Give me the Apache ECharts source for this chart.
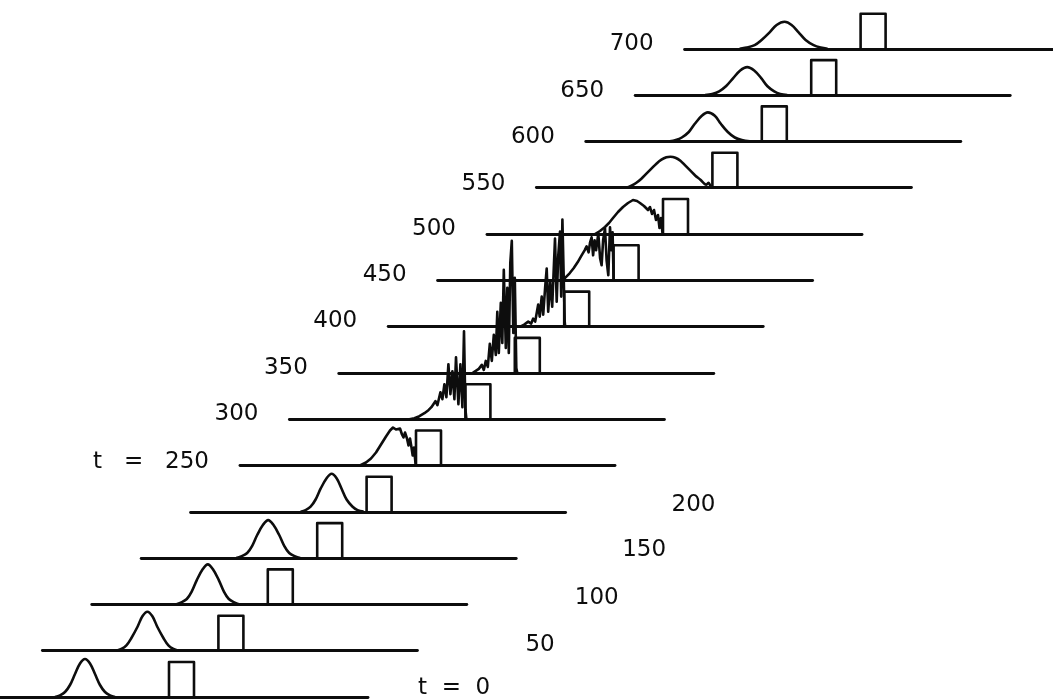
<!DOCTYPE html>
<html>
<head>
<meta charset="utf-8">
<script src="https://cdn.jsdelivr.net/npm/echarts@6/dist/echarts.min.js"></script>
<style>
html,body{margin:0;padding:0;background:#ffffff;}
#chart{width:1053px;height:700px;}
</style>
</head>
<body>
<div id="chart"></div>
<script>
// ---------------- DATA ----------------
// time of each slice
const times = [0, 50, 100, 150, 200, 250, 300, 350, 400, 450, 500, 550, 600, 650, 700];
// text of each slice label
const timeLabels = ["t  =  0", "50", "100", "150", "200", "t   =   250", "300", "350", "400", "450", "500", "550", "600", "650", "700"];
// position axis range and barrier (position units along each baseline)
const positionRange = [0, 375];
const barrierX = [176, 201];
const barrierHeight = 35;

// probability density |psi|^2 for each time: [position, density]
const rho_t0 = [[62,0],[67,1.7],[72,5],[77,12],[82,23],[87,33.5],[92,38],[97,33.5],[102,23],[107,12],[112,5],[117,1.7],[122,0]];
const rho_t50 = [[74,0],[79,1.7],[84,5.3],[89,12.7],[95,23.7],[100,34.4],[105,39],[110,34.4],[115,23.7],[121,12.7],[126,5.3],[131,1.7],[136,0]];
const rho_t100 = [[84,0],[89,1.8],[95,5.4],[100,13],[105,24.3],[111,35.3],[116,40],[121,35.3],[127,24.3],[132,13],[137,5.4],[143,1.8],[148,0]];
const rho_t150 = [[95,0],[100,1.7],[106,5.1],[111,12.3],[116,23.1],[122,33.5],[127,38],[132,33.5],[138,23.1],[143,12.3],[148,5.1],[154,1.7],[159,0]];
const rho_t200 = [[110,0],[115,1.7],[120,5.1],[125,12.3],[130,23.1],[136,33.5],[141,38],[146,33.5],[151,23.1],[156,12.3],[162,5.1],[167,1.7],[173,0.3]];
const rho_t250 = [[120,0],[126,3],[131,7],[136,13],[141,21],[146,29],[150,35],[153,38],[156,36],[158,35],[160,37],[162,31],[163.5,28],[165,33],[167,27],[168.5,20],[170,27],[171.5,18],[172.7,10],[174,18],[175.5,2],[176,0]];
const rho_t300 = [[120,0],[125,1],[130,3],[135,6],[139,9],[142,12],[144,10],[146,18],[148,14],[151,27],[153,20],[155,35],[157,22],[159,55],[161,25],[163,48],[165,20],[166.6,62],[169,15],[171,55],[173,12],[174.6,88],[176,10],[177,0]];
const rho_t350 = [[134,0],[137,2],[140,4],[143,8],[145,3],[147,12],[149,6],[151,29],[153,12],[155,38],[157,18],[158.5,61],[160,20],[162,70],[163.5,30],[165,103],[167,25],[168.5,85],[170,20],[171.5,110],[173,132],[174.5,40],[176,95],[177.5,5],[178.5,0]];
const rho_t400 = [[132,0],[136,2],[140,5],[143,3],[145,8],[147,5],[150,22],[151.5,10],[153.5,30],[155,12],[157,40],[158.5,58],[160,15],[162,45],[164,20],[166.8,88],[168.5,25],[170,70],[171.8,95],[173,30],[174.2,107],[175.5,50],[176.5,5],[177,0]];
const rho_t450 = [[125,0],[128,3],[132,7],[136,12],[140,18],[144,25],[147,30],[149,34],[151,28],[152.5,38],[154,43],[155.5,25],[157,40],[158.5,30],[160.7,47],[162.5,22],[164,15],[165.5,40],[167.4,52],[169,20],[170.7,5],[172.4,53],[174,30],[175,48],[176,0]];
const rho_t500 = [[108,0],[113,3],[118,7],[122,11],[126,16],[131,22],[136,27],[141,31],[146,34],[150,33],[153,31],[155,33],[157,28],[159,30],[161,24],[163,27],[165,20],[167,24],[169,14],[171,19],[172.5,6],[174,16],[175.5,1],[176,0]];
const rho_t550 = [[90,0],[95,2],[100,5],[105,9],[110,14],[115,19],[120,24],[125,28],[130,30.5],[134,31],[139,30],[144,27],[149,22],[154,17],[159,12],[164,8],[168,4],[170,3],[172,5],[174,2],[176,0]];
const rho_t600 = [[84,0],[90,1.3],[96,3.9],[103,9.4],[109,17.6],[116,25.6],[122,29],[129,25.6],[135,17.6],[142,9.4],[149,3.9],[156,1.3],[164,0]];
const rho_t650 = [[70,0],[77,1.2],[84,3.8],[91,9.1],[98,17],[105,24.7],[112,28],[119,24.7],[126,17],[132,9.1],[139,3.8],[145,1.2],[152,0]];
const rho_t700 = [[55,0],[62,1.2],[70,3.6],[77,8.8],[85,16.4],[92,23.8],[100,27],[107,23.8],[114,16.4],[121,8.8],[129,3.6],[136,1.2],[143,0]];

const profiles = [rho_t0, rho_t50, rho_t100, rho_t150, rho_t200, rho_t250, rho_t300, rho_t350,
                  rho_t400, rho_t450, rho_t500, rho_t550, rho_t600, rho_t650, rho_t700];

// ---------------- LAYOUT & STYLE ----------------
const layout = { x0: -7, dx: 49.4, base0: 697, dy: 46.3, len: 375, h: 140, yMax: 140 };
const ink = '#0d0d0d';
const labelFont = 'normal 23px "DejaVu Sans"';
const rightLabelCount = 5;
const rightGaps = [50, 108, 108, 106, 106];
const leftGap = 31;
const labelLift = [9, 6, 6, 8, 7, 3.5, 5, 5, 5.5, 5, 5, 4, 4, 4, 5];
const jagged = [false, false, false, false, false, true, true, true, true, true, true, false, false, false, false];

const grids = [], xAxes = [], yAxes = [], series = [], labels = [];
times.forEach((t, i) => {
  const baseY = layout.base0 - layout.dy * i;
  const left = layout.x0 + layout.dx * i;
  grids.push({
    left: left, width: layout.len, top: baseY - layout.h, height: layout.h,
    containLabel: false, outerBoundsMode: 'none'
  });
  xAxes.push({
    gridIndex: i, type: 'value', min: positionRange[0], max: positionRange[1],
    axisLine: { show: true, onZero: false, lineStyle: { color: ink, width: 2.9 } },
    axisTick: { show: false }, axisLabel: { show: false }, splitLine: { show: false }
  });
  yAxes.push({ gridIndex: i, type: 'value', min: 0, max: layout.yMax, show: false });
  series.push({
    type: 'line', name: 'barrier ' + t, xAxisIndex: i, yAxisIndex: i,
    data: [[barrierX[0], 0], [barrierX[0], barrierHeight], [barrierX[1], barrierHeight], [barrierX[1], 0]],
    symbol: 'none', silent: true, clip: false,
    lineStyle: { color: ink, width: 2.6, join: 'round' }
  });
  series.push({
    type: 'line', name: 'density ' + t, xAxisIndex: i, yAxisIndex: i,
    data: profiles[i],
    symbol: 'none', silent: true, clip: false,
    smooth: jagged[i] ? false : 0.35,
    lineStyle: { color: ink, width: 2.6, join: 'round' }
  });
  const onRight = i < rightLabelCount;
  labels.push({
    type: 'text',
    x: onRight ? left + layout.len + rightGaps[i] : left - leftGap,
    y: baseY - labelLift[i],
    silent: true,
    style: {
      text: timeLabels[i], font: labelFont, fill: ink,
      textAlign: onRight ? 'left' : 'right', textVerticalAlign: 'middle'
    }
  });
});

const chart = echarts.init(document.getElementById('chart'), null, { renderer: 'canvas' });
chart.setOption({
  backgroundColor: '#ffffff',
  animation: false,
  grid: grids,
  xAxis: xAxes,
  yAxis: yAxes,
  series: series,
  graphic: labels
});
</script>
</body>
</html>
